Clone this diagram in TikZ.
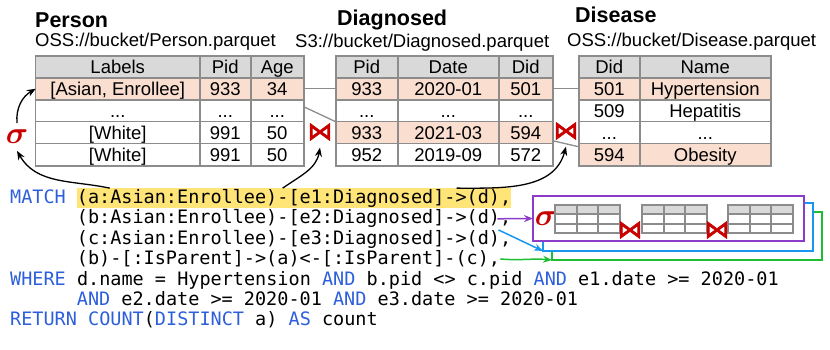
\RequirePackage{fix-cm}
\documentclass[tikz,border=0pt]{standalone}
\usepackage{fontspec}
\setmainfont{Liberation Sans}
\setmonofont{DejaVu Sans Mono}
\newfontface\joinfont[FakeBold=2.5]{DejaVu Sans}
\usetikzlibrary{arrows.meta, matrix, positioning}

\definecolor{gridgray}{RGB}{140,140,140}
\definecolor{headgray}{RGB}{217,217,217}
\definecolor{hitpink}{RGB}{250,222,208}
\definecolor{hlyellow}{RGB}{255,228,120}
\definecolor{kwblue}{RGB}{45,95,220}
\definecolor{opred}{RGB}{200,0,0}
\definecolor{purc}{RGB}{140,60,200}
\definecolor{bluc}{RGB}{25,150,240}
\definecolor{grnc}{RGB}{30,190,50}

\newcommand{\kw}[1]{\textcolor{kwblue}{#1}}
\newcommand{\tabfont}{\fontsize{18.5}{20}\selectfont}
\newcommand{\codefont}{\fontsize{18.5}{20.4}\selectfont\ttfamily\frenchspacing}
\newcommand{\joinsym}{{\color{opred}\fontsize{25}{25}\joinfont ⋈}}
\newcommand{\selsym}{{\color{opred}\fontsize{31}{31}\selectfont\boldmath$\sigma$}}

\begin{document}
\begin{tikzpicture}[
    x=1pt, y=1pt,
    >={Stealth[length=9pt, width=7pt]},
    cellbox/.style={draw=gridgray, line width=1.5pt, inner sep=0pt, outer sep=0pt, minimum height=22pt, text height=14pt, text depth=1pt, font=\tabfont, anchor=center},
    datatable/.style={matrix of nodes, anchor=north west, inner sep=0pt, outer sep=0pt, column sep=-1.5pt, row sep=-1.5pt, nodes={cellbox}, row 1/.style={nodes={fill=headgray}}},
    hitrow/.style={nodes={fill=hitpink}},
    tabletitle/.style={anchor=base west, inner sep=0pt, font=\fontsize{21.5}{24}\selectfont\bfseries},
    tablepath/.style={anchor=base west, inner sep=0pt, font=\tabfont},
    codeline/.style={anchor=base west, inner sep=0pt, font=\codefont},
    opnode/.style={inner sep=0pt, outer sep=7pt},
    linkline/.style={draw=gridgray, line width=1.3pt},
    callout/.style={->, line width=1.3pt, black},
    planarrow/.style={->, line width=1.5pt},
    planbox/.style={draw, fill=white, line width=1.5pt, inner sep=0pt, outer sep=0pt, anchor=north west, minimum width=270pt, minimum height=48pt},
    minigrid/.style={draw=gridgray, line width=1.8pt},
]
\useasboundingbox (0,0) rectangle (830,-350);

% Table titles
\node[tabletitle] (ttl1) at (35,-28) {Person};
\node[tabletitle] (ttl2) at (337,-26) {Diagnosed};
\node[tabletitle] (ttl3) at (575,-23) {Disease};
\node[tablepath] (src1) at (35,-47) {OSS://bucket/Person.parquet};
\node[tablepath] (src2) at (295,-48) {S3://bucket/Diagnosed.parquet};
\node[tablepath] (src3) at (567,-47) {OSS://bucket/Disease.parquet};

% Tables
\matrix (person) [datatable, row 2/.style={hitrow},
    column 1/.style={nodes={minimum width=164pt}},
    column 2/.style={nodes={minimum width=51pt}},
    column 3/.style={nodes={minimum width=53pt}}] at (35,-55) {
  Labels & Pid & Age \\
  {[Asian, Enrollee]} & 933 & 34 \\
  ... & ... & ... \\
  {[White]} & 991 & 50 \\
  {[White]} & 991 & 50 \\
};
\matrix (diag) [datatable, row 2/.style={hitrow}, row 4/.style={hitrow},
    column 1/.style={nodes={minimum width=62pt}},
    column 2/.style={nodes={minimum width=101pt}},
    column 3/.style={nodes={minimum width=54pt}}] at (335,-55) {
  Pid & Date & Did \\
  933 & 2020-01 & 501 \\
  ... & ... & ... \\
  933 & 2021-03 & 594 \\
  952 & 2019-09 & 572 \\
};
\matrix (dis) [datatable, row 2/.style={hitrow}, row 5/.style={hitrow},
    column 1/.style={nodes={minimum width=61pt}},
    column 2/.style={nodes={minimum width=131pt}}] at (578,-55) {
  Did & Name \\
  501 & Hypertension \\
  509 & Hepatitis \\
  ... & ... \\
  594 & Obesity \\
};

% Join links between rows
\draw[linkline] (person-2-3.east) -- (diag-2-1.west);
\draw[linkline] ([yshift=-7pt]person-3-3.north east) -- (diag-4-1.north west);
\draw[linkline] (diag-2-3.east) -- (dis-2-1.west);
\draw[linkline] ([yshift=3pt]diag-4-3.south east) -- ([yshift=-3pt]dis-5-1.north west);

% Operators
\node[opnode] (sel) at (17,-137) {\selsym};
\node[opnode] (j1) at (320,-132) {\joinsym};
\node[opnode] (j2) at (566,-131) {\joinsym};

% Query text
\node[codeline] (m1) at (10,-203.5) {\kw{MATCH}};
\node[codeline, fill=hlyellow, inner ysep=1pt] (hl) at (76.7,-203.5) {(a:Asian:Enrollee)-[e1:Diagnosed]->(d),};
\node[codeline] (l2) at (76.7,-223.9) {(b:Asian:Enrollee)-[e2:Diagnosed]->(d),};
\node[codeline] (l3) at (76.7,-244.3) {(c:Asian:Enrollee)-[e3:Diagnosed]->(d),};
\node[codeline] (l4) at (76.7,-264.7) {(b)-[:IsParent]->(a)<-[:IsParent]-(c),};
\node[codeline] (l5) at (10,-285.1) {\kw{WHERE} d.name = Hypertension \kw{AND} b.pid <> c.pid \kw{AND} e1.date >= 2020-01};
\node[codeline] (l6) at (76.7,-305.5) {\kw{AND} e2.date >= 2020-01 \kw{AND} e3.date >= 2020-01};
\node[codeline] (l7) at (10,-325.9) {\kw{RETURN} \kw{COUNT}(\kw{DISTINCT} a) \kw{AS} count};

% Callouts from the query
\draw[callout] ([xshift=33pt]hl.north west) to[out=168, in=-60] (sel.south);
\draw[callout] (sel.north) to[out=95, in=-150] (person-2-1.west);
\draw[callout] ([xshift=206pt]hl.north west) to[out=35, in=-100] (j1.south);
\draw[callout] ([xshift=380pt]hl.north west) to[out=0, in=-105] (j2.south);

% Plan boxes
\node[planbox, draw=grnc] (grn) at (552,-212) {};
\node[planbox, draw=bluc] (blu) at (543,-203) {};
\node[planbox, draw=purc, minimum width=271pt, minimum height=45pt] (pur) at (533,-196) {};

\node[inner sep=0pt] (sel2) at (546,-219) {\selsym};
\foreach \tx in {555,642,728} {
  \fill[headgray] (\tx,-205) rectangle ++(65,-9.33);
  \draw[minigrid] (\tx,-205) rectangle ++(65,-28);
  \draw[minigrid] (\tx,-214.33) -- ++(65,0) (\tx,-223.67) -- ++(65,0);
  \draw[minigrid] (\tx+21.67,-205) -- ++(0,-28) (\tx+43.33,-205) -- ++(0,-28);
}
\node[inner sep=0pt] (j3) at (630,-230) {\joinsym};
\node[inner sep=0pt] (j4) at (717,-230) {\joinsym};

\draw[planarrow, purc] ([xshift=-14pt]l2.east) -- (pur.west);
\draw[planarrow, bluc] ([xshift=-13pt]l3.north east) to[out=-25, in=155] (blu.south west);
\draw[planarrow, grnc] (l4.east) to[out=-5, in=175] (grn.south west);

\end{tikzpicture}
\end{document}
